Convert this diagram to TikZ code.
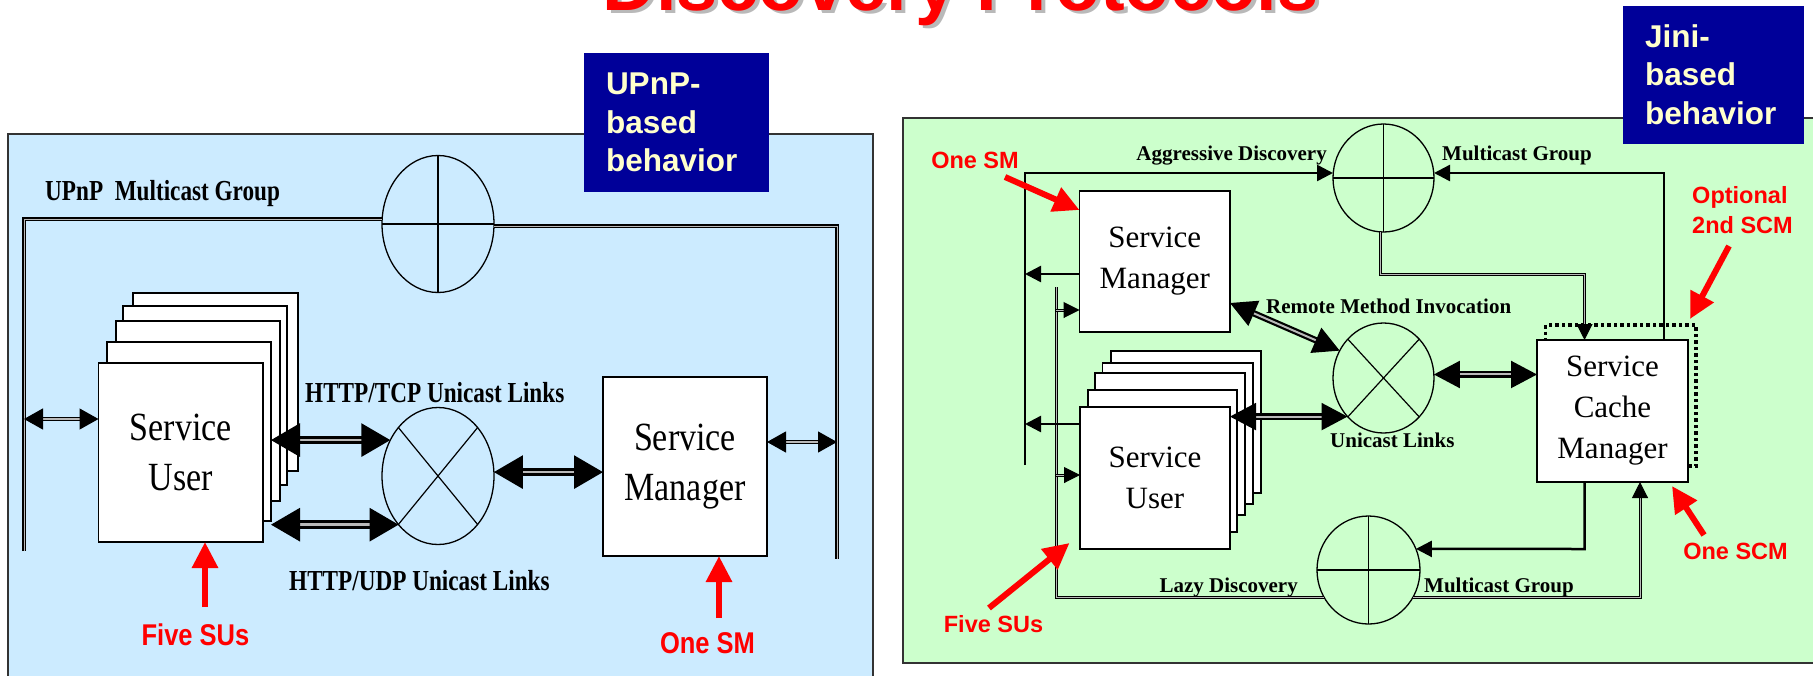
\documentclass[tikz,border=0pt]{standalone}
\usepackage{fontspec}
\setmainfont{Liberation Serif}
\newfontfamily\serifn{Liberation Serif}
\newfontfamily\serifc{Liberation Serif}[FakeStretch=0.85]
\newfontfamily\serifcc{Liberation Serif}[FakeStretch=0.8]
\newfontfamily\sansn{Liberation Sans}
\newfontfamily\sansc{Liberation Sans}[FakeStretch=0.85]
\usetikzlibrary{arrows.meta,calc,shapes.geometric}

\definecolor{lblue}{RGB}{204,235,255}
\definecolor{lgreen}{RGB}{204,255,204}
\definecolor{dblue}{RGB}{0,0,153}
\definecolor{cream}{RGB}{255,255,204}
\definecolor{shade}{RGB}{185,185,185}

\tikzset{
  ttl/.style={anchor=base, inner sep=0pt, font=\sansn\bfseries\fontsize{74}{80}\selectfont},
  panel/.style={draw=black!80, line width=2pt, inner sep=0pt, outer sep=0pt, anchor=north west},
  tag/.style={fill=dblue, text=cream, anchor=north west, align=left, inner xsep=22pt,
    inner ysep=0pt, outer sep=0pt, font=\sansn\bfseries\fontsize{31.5}{38.5}\selectfont},
  page/.style={draw=black, fill=white, line width=1.3pt, inner sep=0pt, outer sep=0pt,
    anchor=north west, align=center},
  lbox/.style={page, font=\serifc\fontsize{40}{50}\selectfont},
  rbox/.style={page, font=\serifn\fontsize{31}{41}\selectfont},
  grp/.style={ellipse, draw=black, line width=1.3pt, inner sep=0pt, outer sep=0pt},
  crossln/.style={draw=black, line width=1.2pt},
  mline/.style={draw=black, line width=1.2pt, double=gray!55, double distance=1pt},
  bline/.style={draw=black, line width=2.5pt},
  dline/.style={draw=black, line width=1pt, double=gray!55, double distance=1pt},
  tipS/.tip={Triangle[length=16pt,width=16pt]},
  sarr/.style={draw=black, line width=1.2pt, double=gray!55, double distance=1.5pt,
    {Triangle[length=19pt,width=21pt]}-{Triangle[length=19pt,width=21pt]}},
  barr/.style={draw=black, line width=3pt, double=gray!55, double distance=2.5pt,
    {Triangle[length=29pt,width=33pt]}-{Triangle[length=29pt,width=33pt]}},
  rbarr/.style={draw=black, line width=2.2pt, double=gray!55, double distance=2pt,
    {Triangle[length=26pt,width=27pt]}-{Triangle[length=26pt,width=27pt]}},
  redarr/.style={draw=red, line width=6pt, -{Triangle[length=26pt,width=25pt]}},
  redlabL/.style={text=red, anchor=base, inner sep=0pt, font=\sansc\bfseries\fontsize{30}{36}\selectfont},
  redlabR/.style={text=red, inner sep=0pt, align=left, font=\sansn\bfseries\fontsize{23.5}{30}\selectfont},
  labL/.style={inner sep=0pt, font=\serifcc\bfseries\fontsize{29}{34}\selectfont},
  labR/.style={inner sep=0pt, font=\serifn\bfseries\fontsize{21}{25}\selectfont},
}

\begin{document}
\begin{tikzpicture}[x=1pt,y=-1pt]
\useasboundingbox (0,0) rectangle (1813,675);
\clip (0,0) rectangle (1813,675);

% heading with its drop shadow
\node[ttl, text=shade] (titleshadow) at (964.5,13.5) {Discovery Protocols};
\node[ttl, text=red] (title) at (960.5,10) {Discovery Protocols};

% the two behaviour panels
\node[panel, fill=lblue, minimum width=865pt, minimum height=600pt] (upnp) at (7.5,134) {};
\node[panel, fill=lgreen, minimum width=950pt, minimum height=545pt] (jini) at (903,118) {};
\node[tag, minimum width=185pt, text width=141pt, minimum height=139pt] (upnptag) at (584,53) {UPnP-\\based\\behavior};
\node[tag, minimum width=181pt, text width=137pt, minimum height=138pt] (jinitag) at (1623,5.7) {Jini-\\based\\behavior};

% ---------------- UPnP side ----------------
\node[grp, minimum width=112pt, minimum height=137pt] (umc) at (438,224) {};
\draw[crossln] (umc.north) -- (umc.south) (umc.west) -- (umc.east);
\coordinate (ulb) at (24,551);
\coordinate (urb) at (837,559);
\draw[mline] (ulb) |- ([yshift=5pt]umc.west);
\draw[mline] ([yshift=-2pt]umc.east) -| (urb);

\node[grp, minimum width=112pt, minimum height=137pt] (uuc) at (438,476) {};
\draw[crossln] (uuc.north west) -- (uuc.south east) (uuc.north east) -- (uuc.south west);

% stack of five service users
\node[page, minimum width=165pt, minimum height=178pt] (su1) at (133,293) {};
\node[page, minimum width=164pt, minimum height=179pt] (su2) at (123,306) {};
\node[page, minimum width=164pt, minimum height=180pt] (su3) at (116,321) {};
\node[page, minimum width=164pt, minimum height=179pt] (su4) at (107,342) {};
\node[lbox, minimum width=164.5pt, minimum height=179pt] (su) at (98.5,363) {Service\\User};
\node[lbox, minimum width=164pt, minimum height=179pt] (lsm) at (603,377) {Service\\Manager};

\coordinate (e1) at (24,419);
\coordinate (e2) at (837,442);
\draw[sarr] (e1) -- (e1 -| su.west);
\draw[sarr] (e2 -| lsm.east) -- (e2);
\draw[barr] (uuc.143 -| su4.east) -- (uuc.143);
\draw[barr] (uuc.231 -| su4.east) -- (uuc.231);
\draw[barr] (uuc.4) -- (uuc.4 -| lsm.west);

\node[labL, anchor=base west] (mcastL) at (45,200) {UPnP\ \ Multicast Group};
\node[labL, anchor=base west] (tcpL) at (305,402) {HTTP/TCP Unicast Links};
\node[labL, anchor=base west] (udpL) at (289,590) {HTTP/UDP Unicast Links};

\coordinate (fsL) at (205,607);
\coordinate (omL) at (719,618);
\draw[redarr] (fsL) -- (fsL |- su.south);
\draw[redarr] (omL) -- (omL |- lsm.south);
\node[redlabL] (fiveL) at (195.5,645) {Five SUs};
\node[redlabL] (onesmL) at (707.5,653) {One SM};

% ---------------- Jini side ----------------
\node[grp, minimum width=101pt, minimum height=108pt] (amc) at (1383.5,178) {};
\draw[crossln] (amc.north) -- (amc.south) (amc.west) -- (amc.east);
\node[grp, minimum width=101pt, minimum height=110pt] (ruc) at (1383.5,378) {};
\draw[crossln] (ruc.north west) -- (ruc.south east) (ruc.north east) -- (ruc.south west);
\node[grp, minimum width=103pt, minimum height=108pt] (lmc) at (1368.5,570) {};
\draw[crossln] (lmc.north) -- (lmc.south) (lmc.west) -- (lmc.east);

% optional second cache manager, behind the first one
\node[page, fill=none, draw=black, line width=3.5pt, dash pattern=on 3.5pt off 3pt,
  minimum width=150.5pt, minimum height=141pt] (scm2) at (1545.5,325) {};

\coordinate (ovb) at (1025,465);
\coordinate (t1) at (1664,173);
\coordinate (t2) at (1584.5,274);
\coordinate (t3) at (1584.5,549);
\coordinate (t4) at (1640,598);
\coordinate (ib) at (1056,287);

% stack of five service users
\node[page, minimum width=150pt, minimum height=142pt] (rsu1) at (1111,351) {};
\node[page, minimum width=150.5pt, minimum height=141pt] (rsu2) at (1102.5,363) {};
\node[page, minimum width=150pt, minimum height=142pt] (rsu3) at (1095,373) {};
\node[page, minimum width=149pt, minimum height=142pt] (rsu4) at (1088,390) {};
\node[rbox, minimum width=150pt, minimum height=142pt] (rsu) at (1080,407) {Service\\User};
\node[rbox, minimum width=150.5pt, minimum height=141pt] (rsm) at (1079.5,191) {Service\\Manager};

% discovery buses
\draw[bline, -tipS] (ovb) |- ([yshift=5pt]amc.west);
\draw[dline] (ib) |- (lmc.212);

\node[rbox, minimum width=151pt, minimum height=142pt] (scm) at (1537,340) {Service\\Cache\\Manager};

\draw[bline, -tipS] (t1 |- scm.north) -- (t1) -- ([yshift=5pt]amc.east);
\draw[dline, -tipS] ([xshift=-3.5pt]amc.south) |- (t2) -- (t2 |- scm.north);
\draw[bline, -tipS] (t3 |- scm.south) -- (t3) -- (lmc.24);
\draw[dline, -tipS] (lmc.328) -| (t4 |- scm.south);

\coordinate (o1) at (1025,274);
\coordinate (o2) at (1025,424);
\coordinate (i1) at (1056,310);
\coordinate (i2) at (1056,475);
\draw[bline, -tipS] (o1 -| rsm.west) -- (o1);
\draw[bline, -tipS] (o2 -| rsu.west) -- (o2);
\draw[dline, -tipS] (i1) -- (i1 -| rsm.west);
\draw[dline, -tipS] (i2) -- (i2 -| rsu.west);

\draw[rbarr] ([yshift=-41.5pt]rsm.east) -- (ruc.148);
\draw[rbarr] (ruc.227 -| rsu.east) -- (ruc.227);
\draw[rbarr] (ruc.4) -- (ruc.4 -| scm.west);

\node[labR, anchor=base east] (aggr) at (1327,160) {Aggressive Discovery};
\node[labR, anchor=base west] (mcastT) at (1442,160) {Multicast Group};
\node[labR, anchor=base west] (rmi) at (1266,313) {Remote Method Invocation};
\node[labR, anchor=base west] (ucast) at (1330,447) {Unicast Links};
\node[labR, anchor=base east] (lazy) at (1298,592) {Lazy Discovery};
\node[labR, anchor=base west] (mcastB) at (1424,592) {Multicast Group};

\coordinate (osm) at (1005,177);
\coordinate (fsR) at (989,608);
\coordinate (opt) at (1729,246);
\coordinate (oscm) at (1704,535);
\draw[redarr] (osm) -- ([yshift=51.5pt]rsm.west);
\draw[redarr] (fsR) -- ([xshift=-10.5pt,yshift=6pt]rsu.south west);
\draw[redarr] (opt) -- ([xshift=-6pt,yshift=6pt]scm2.north east);
\draw[redarr] (oscm) -- ([xshift=-16pt,yshift=-4pt]scm.south east);
\node[redlabR, anchor=base] (onesmR) at (975,168) {One SM};
\node[redlabR, anchor=base] (fiveR) at (993.5,632) {Five SUs};
\node[redlabR, anchor=north west] (optR) at (1692,186) {Optional\\2nd SCM};
\node[redlabR, anchor=base] (onescmR) at (1735.5,559) {One SCM};
\end{tikzpicture}
\end{document}
